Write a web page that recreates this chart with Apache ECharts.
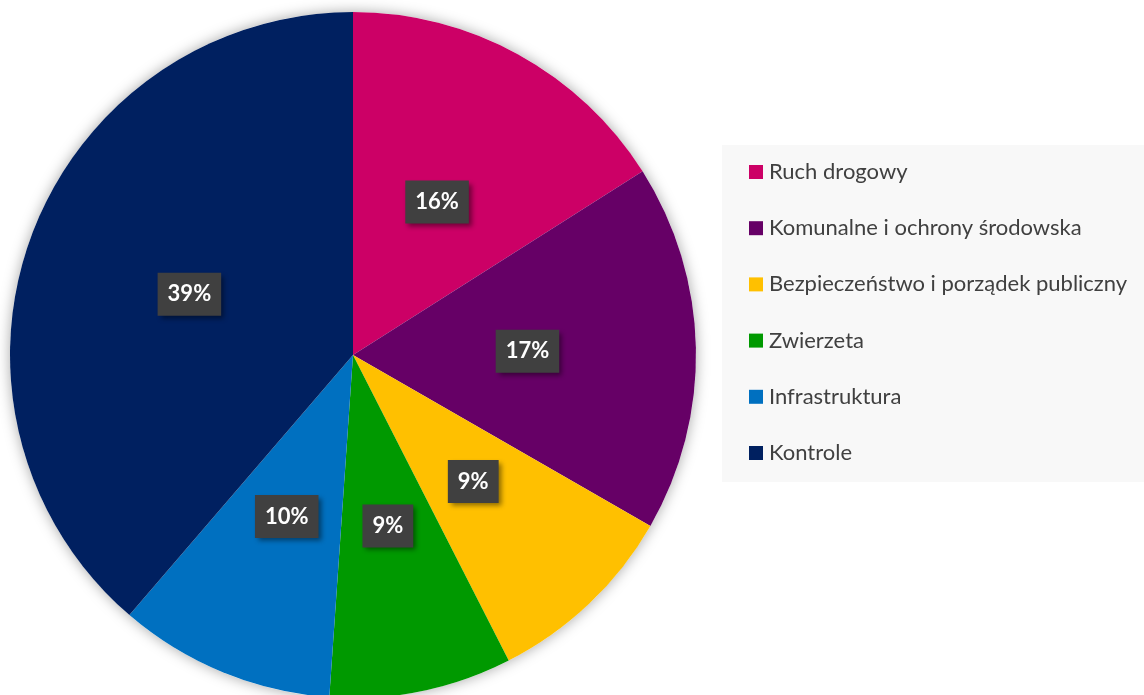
<!DOCTYPE html>
<html><head><meta charset="utf-8">
<script src="https://cdn.jsdelivr.net/npm/echarts@6/dist/echarts.min.js"></script>
<style>html,body{margin:0;padding:0;background:#fff}#c{width:1144px;height:695px}</style>
</head><body><div id="c"></div>
<script>
const categories = ['Ruch drogowy','Komunalne i ochrony środowska','Bezpieczeństwo i porządek publiczny','Zwierzeta','Infrastruktura','Kontrole'];
const values = [16.0, 17.3, 9.2, 8.6, 10.2, 38.7];
const colors = ['#cc0066','#660066','#ffc000','#009900','#0070c0','#002060'];

const chart = echarts.init(document.getElementById('c'));
chart.setOption({
  animation: false,
  color: colors,
  graphic: [{type:'rect', left:722, top:145, shape:{width:422, height:337}, style:{fill:'#f8f8f8'}, z:-10}],
  legend: {
    orient: 'vertical', left: 749, top: 161, padding: 0,
    itemWidth: 14, itemHeight: 14, itemGap: 34.2, icon: 'rect',
    textStyle: {fontFamily: 'Lato, "Open Sans", sans-serif', fontSize: 22, color: '#404040', lineHeight: 22, padding:[0,0,0,1]},
    data: categories
  },
  series: [
    {type:'pie', silent:true, center:[353,355], radius:[0,343], startAngle:90, z:1,
     data:[{value:1, itemStyle:{color:'#fff', shadowBlur:14, shadowColor:'rgba(0,0,0,0.35)'}}],
     label:{show:false}, labelLine:{show:false}},
    {type:'pie', center:[353,355], radius:[0,343], startAngle:90, clockwise:true, z:2,
     percentPrecision: 0,
     data: categories.map((n,i)=>({name:n, value:values[i]})),
     itemStyle:{borderWidth:0},
     label:{position:'inside', formatter:'{d}%', color:'#fff', fontWeight:'bold', fontSize:22,
       fontFamily:'Lato, "Open Sans", sans-serif',
       backgroundColor:'#404040', padding:[11,10,10,10],
       shadowColor:'rgba(0,0,0,0.45)', shadowBlur:5, shadowOffsetX:3, shadowOffsetY:3},
     labelLine:{show:false}}
  ]
});
</script></body></html>
